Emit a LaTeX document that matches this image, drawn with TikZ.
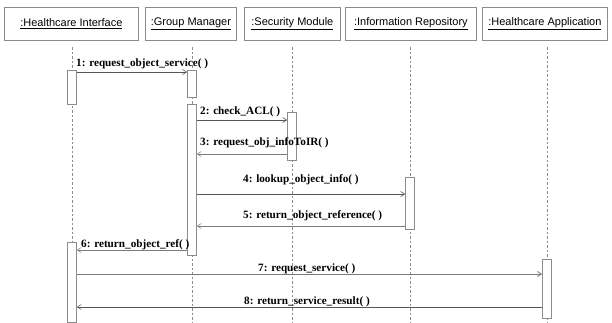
\documentclass[tikz,border=0pt]{standalone}
\usepackage{fontspec}
\setmainfont{Liberation Serif}
\newfontfamily\objfont{Liberation Sans}
\usetikzlibrary{arrows.meta}
\definecolor{edge}{HTML}{8C8C8C}
\definecolor{msgline}{HTML}{555555}
\definecolor{retline}{HTML}{7A7A7A}
\tikzset{
  objbox/.style={draw=edge, fill=white, line width=0.8pt, minimum height=33pt,
    inner sep=0pt, font=\objfont\fontsize{11}{13}\selectfont, anchor=north west},
  lifeline/.style={draw=edge, dashed, dash pattern=on 2.5pt off 2pt, line width=0.5pt},
  actbox/.style={draw=edge, fill=white, line width=0.6pt, minimum width=9pt,
    inner sep=0pt, anchor=north},
  callmsg/.style={draw=msgline, line width=0.6pt, -{Straight Barb[length=4pt,width=5pt]}},
  retmsg/.style={draw=retline, line width=0.5pt, -{Straight Barb[length=4pt,width=5pt]}},
  msglabel/.style={font=\bfseries\fontsize{11.2}{13}\selectfont, inner sep=0pt, anchor=base west}
}
\begin{document}
\begin{tikzpicture}[x=1pt,y=-1pt]
\useasboundingbox (0,0) rectangle (612,322);

% object heads
\node[objbox, minimum width=134pt] (hi) at (4,7) {\underline{:Healthcare Interface}};
\node[objbox, minimum width=91pt]  (gm) at (145,7) {\underline{:Group Manager}};
\node[objbox, minimum width=96pt]  (sm) at (244,7) {\underline{:Security Module}};
\node[objbox, minimum width=131pt] (ir) at (345,7) {\underline{:Information Repository}};
\node[objbox, minimum width=125pt] (ha) at (482,7) {\underline{:Healthcare Application}};

% lifelines
\coordinate (hiEnd) at (72,322);
\coordinate (gmEnd) at (192,322);
\coordinate (smEnd) at (292,322);
\coordinate (irEnd) at (410,322);
\coordinate (haEnd) at (547,322);
\draw[lifeline] (72,47) -- (hiEnd);
\draw[lifeline] (192,47) -- (gmEnd);
\draw[lifeline] (292,47) -- (smEnd);
\draw[lifeline] (410,47) -- (irEnd);
\draw[lifeline] (547,47) -- (haEnd);

% activation bars
\node[actbox, minimum height=34pt]  (hiA) at (72,70) {};
\node[actbox, minimum height=80pt]  (hiB) at (72,242) {};
\node[actbox, minimum height=27pt]  (gmA) at (192,70) {};
\node[actbox, minimum height=151pt] (gmB) at (192,104) {};
\node[actbox, minimum height=48pt]  (smA) at (292,112) {};
\node[actbox, minimum height=52pt]  (irA) at (410,177) {};
\node[actbox, minimum height=59pt]  (haA) at (547,259) {};

% messages
\draw[callmsg] (hiA.east |- 0,72) -- (gmA.west |- 0,72);
\node[msglabel] (l1) at (76,66) {1: request\_object\_service( )};

\draw[callmsg] (gmB.east |- 0,120) -- (smA.west |- 0,120);
\node[msglabel] (l2) at (200,114) {2: check\_ACL( )};

\draw[retmsg] (smA.west |- 0,154) -- (gmB.east |- 0,154);
\node[msglabel] (l3) at (200,145) {3: request\_obj\_infoToIR( )};

\draw[callmsg] (gmB.east |- 0,194) -- (irA.west |- 0,194);
\node[msglabel] (l4) at (243,182) {4: lookup\_object\_info( )};

\draw[retmsg] (irA.west |- 0,226) -- (gmB.east |- 0,226);
\node[msglabel] (l5) at (243,218) {5: return\_object\_reference( )};

\draw[retmsg] (gmB.west |- 0,250) -- (hiB.east |- 0,250);
\node[msglabel] (l6) at (81,247) {6: return\_object\_ref( )};

\draw[callmsg, draw=retline, line width=0.8pt] (hiB.east |- 0,274) -- (haA.west |- 0,274);
\node[msglabel] (l7) at (258,271) {7: request\_service( )};

\draw[retmsg, draw=msgline] (haA.west |- 0,307) -- (hiB.east |- 0,307);
\node[msglabel] (l8) at (244,304) {8: return\_service\_result( )};
\end{tikzpicture}
\end{document}
